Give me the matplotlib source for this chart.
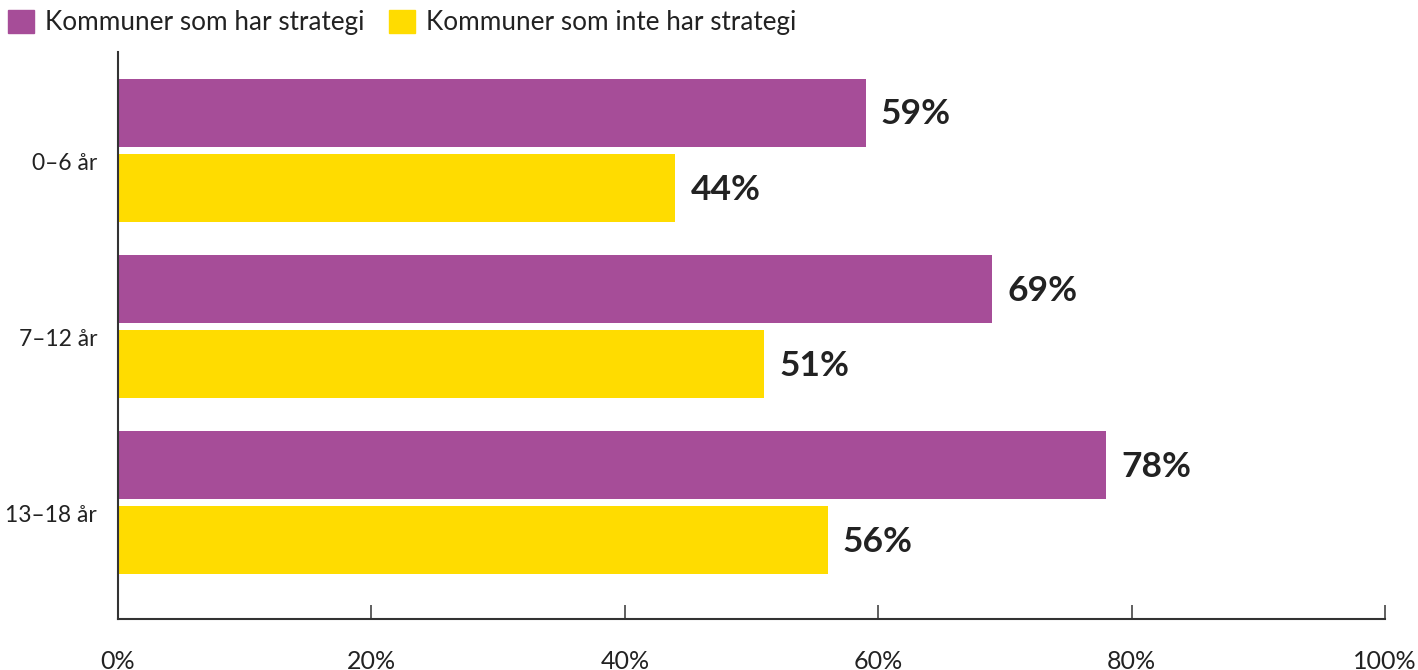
import matplotlib
matplotlib.use("Agg")
import matplotlib.pyplot as plt
from matplotlib.patches import Patch
from matplotlib.transforms import ScaledTranslation
import numpy as np

# data
grupper = ["0–6 år", "7–12 år", "13–18 år"]
med_strategi = [59, 69, 78]
utan_strategi = [44, 51, 56]
serier = ["Kommuner som har strategi", "Kommuner som inte har strategi"]
x_ticks = [0, 20, 40, 60, 80, 100]

LILA = "#A64D98"
GUL = "#FFDC00"
TEXT = "#222222"

plt.rcParams["font.family"] = ["Lato", "DejaVu Sans"]

fig = plt.figure(figsize=(14.18, 6.70), dpi=100)
ax = fig.add_axes([118 / 1418, 51 / 670, (1385 - 118) / 1418, (619 - 52) / 670])

y = np.arange(len(grupper))
h = 0.386
off = 0.213
ax.barh(y - off, med_strategi, height=h, color=LILA)
ax.barh(y + off, utan_strategi, height=h, color=GUL)

for yy, v in zip(y - off, med_strategi):
    ax.annotate(f"{v}%", (v, yy), xytext=(11, -1), textcoords="offset points",
                va="center", ha="left", fontsize=25.5, fontweight="bold", color=TEXT)
for yy, v in zip(y + off, utan_strategi):
    ax.annotate(f"{v}%", (v, yy), xytext=(11, -1), textcoords="offset points",
                va="center", ha="left", fontsize=25.5, fontweight="bold", color=TEXT)

ax.set_xlim(0, 100)
ax.set_ylim(2.66, -0.56)
ax.set_xticks(x_ticks)
ax.set_xticklabels([f"{t}%" for t in x_ticks])
ax.set_yticks(y)
ax.set_yticklabels(grupper)

for s in ["top", "right"]:
    ax.spines[s].set_visible(False)
for s in ["left", "bottom"]:
    ax.spines[s].set_color("#333333")
    ax.spines[s].set_linewidth(1.5)

ax.tick_params(axis="x", direction="in", length=10, width=1.2, color="#444444",
               pad=22, labelsize=18, labelcolor=TEXT)
ax.tick_params(axis="y", length=0, pad=15, labelsize=16.5, labelcolor=TEXT)
for lab in ax.get_yticklabels():
    lab.set_transform(lab.get_transform() + ScaledTranslation(0, -11 / 100, fig.dpi_scale_trans))

handles = [Patch(color=LILA, label=serier[0]), Patch(color=GUL, label=serier[1])]
fig.legend(handles=handles, loc="upper left", bbox_to_anchor=(8 / 1418, 1 - 10 / 670),
           ncol=2, frameon=False, fontsize=18.8, handlelength=1.0, handleheight=0.96,
           handletextpad=0.42, columnspacing=0.95, borderpad=0, borderaxespad=0,
           labelcolor=TEXT)

fig.savefig("out.png", dpi=100)
